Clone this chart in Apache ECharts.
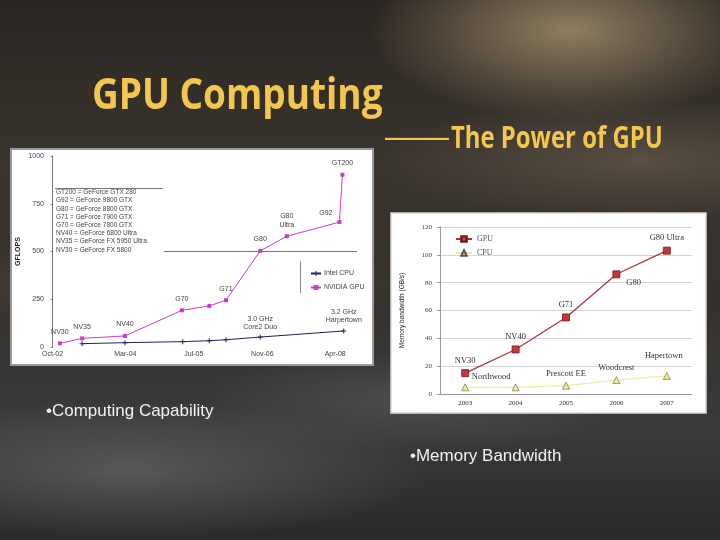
<!DOCTYPE html>
<html>
<head>
<meta charset="utf-8">
<script src="https://cdn.jsdelivr.net/npm/echarts@6/dist/echarts.min.js"></script>
<style>
html,body{margin:0;padding:0;}
body{width:720px;height:540px;overflow:hidden;
background:
 radial-gradient(ellipse 200px 90px at 570px 30px, rgba(160,140,105,0.85), rgba(160,140,105,0) 100%),
 radial-gradient(ellipse 260px 60px at 640px 160px, rgba(120,105,85,0.5), rgba(0,0,0,0) 100%),
 radial-gradient(ellipse 230px 50px at 170px 285px, rgba(130,115,100,0.45), rgba(0,0,0,0) 100%),
 radial-gradient(ellipse 300px 70px at 130px 470px, rgba(120,122,126,0.5), rgba(0,0,0,0) 100%),
 radial-gradient(ellipse 220px 50px at 420px 400px, rgba(110,110,110,0.4), rgba(0,0,0,0) 100%),
 linear-gradient(180deg,#2b2622 0%,#3a342e 30%,#35312d 55%,#3a3a3a 80%,#2a2a2a 100%);}
#c{width:720px;height:540px;}
</style>
</head>
<body>
<div id="c"></div>
<script>
// ---- Left chart: computing capability (GFLOPS) ----
const leftTickMonths = [0, 17, 33, 49, 66];
const leftTickLabels = ['Oct-02', 'Mar-04', 'Jul-05', 'Nov-06', 'Apr-08'];
const gflopsTicks = [0, 250, 500, 750, 1000];
const nvMonths = [1.7, 6.9, 16.9, 30.2, 36.6, 40.5, 48.5, 54.7, 67, 67.7];
const nvGflops = [19, 45, 58, 192, 215, 245, 503, 580, 654, 902];
const nvNames = ['NV30', 'NV35', 'NV40', 'G70', '', 'G71', 'G80', 'G80\nUltra', 'G92', 'GT200'];
const intelMonths = [6.9, 16.9, 30.4, 36.6, 40.5, 48.5, 68];
const intelGflops = [17.5, 22.7, 28, 33, 38, 52, 84];
const intelNames = ['', '', '', '', '', '3.0 GHz\nCore2 Duo', '3.2 GHz\nHarpertown'];
const gpuKey = ['GT200 = GeForce GTX 280', 'G92 = GeForce 9800 GTX', 'G80 = GeForce 8800 GTX',
  'G71 = GeForce 7900 GTX', 'G70 = GeForce 7800 GTX', 'NV40 = GeForce 6800 Ultra',
  'NV35 = GeForce FX 5950 Ultra', 'NV30 = GeForce FX 5800'];

// ---- Right chart: memory bandwidth (GB/s) ----
const years = ['2003', '2004', '2005', '2006', '2007'];
const gpuBW = [15, 32, 55, 86, 103];
const cpuBW = [4.8, 4.8, 6, 10, 13];
const gpuBWNames = ['NV30', 'NV40', 'G71', 'G80', 'G80 Ultra'];
const cpuBWNames = ['Northwood', '', 'Prescott EE', 'Woodcrest', 'Hapertown'];

const chart = echarts.init(document.getElementById('c'), null, {renderer: 'canvas'});

const gold = '#f3c64e';
const smallFont = 'Liberation Sans';
const serif = 'Liberation Serif';

const nvData = nvMonths.map((m, i) => {
  const d = {value: [m, nvGflops[i]], name: nvNames[i]};
  if (nvNames[i] === 'G92') d.label = {position: 'left', offset: [0, -9]};
  return d;
});
const intelData = intelMonths.map((m, i) => ({value: [m, intelGflops[i]], name: intelNames[i]}));

const gpuBWData = gpuBW.map((v, i) => {
  const d = {value: v, name: gpuBWNames[i]};
  if (i === 3) d.label = {position: 'right', offset: [2, 8]};
  return d;
});
const cpuBWData = cpuBW.map((v, i) => {
  const d = {value: v, name: cpuBWNames[i]};
  if (i === 0) d.label = {position: 'top', offset: [26, 2]};
  if (i === 4) d.label = {position: 'top', offset: [-3, -8]};
  return d;
});

const shadow = {shadowColor: 'rgba(0,0,0,0.75)', shadowBlur: 3, shadowOffsetY: 2};
const graphics = [
  {type: 'rect', z: -10, shape: {x: 11, y: 149, width: 362, height: 216},
    style: {fill: '#ffffff', stroke: '#9a9a9a', lineWidth: 2}},
  {type: 'rect', z: -10, shape: {x: 391, y: 213, width: 315, height: 200},
    style: {fill: '#ffffff', stroke: '#d8d8d8', lineWidth: 1.5}},
  {type: 'text', left: 92, top: 75, z: 10, scaleX: 0.86,
    style: Object.assign({text: 'GPU Computing', font: 'bold 43px "Open Sans"', fill: gold}, shadow)},
  {type: 'text', left: 385, top: 122, z: 10,
    style: Object.assign({text: '——', font: '32px "Liberation Sans"', fill: gold}, shadow)},
  {type: 'text', left: 451, top: 124, z: 10, scaleX: 0.77,
    style: Object.assign({text: 'The Power of GPU', font: 'bold 31px "Open Sans"', fill: gold}, shadow)},
  {type: 'text', left: 46, top: 403, z: 10,
    style: {text: '•Computing Capability', font: '17px "Liberation Sans"', fill: '#f2f2f2'}},
  {type: 'text', left: 410, top: 448, z: 10,
    style: {text: '•Memory Bandwidth', font: '17px "Liberation Sans"', fill: '#f2f2f2'}},
  {type: 'line', z: 5, shape: {x1: 55, y1: 188.5, x2: 163, y2: 188.5},
    style: {stroke: '#777', lineWidth: 1}},
  {type: 'line', z: 5, shape: {x1: 300.5, y1: 261, x2: 300.5, y2: 293},
    style: {stroke: '#888', lineWidth: 1}}
];
gpuKey.forEach((t, i) => {
  graphics.push({type: 'text', left: 56, top: 189 + i * 8.2, z: 5,
    style: {text: t, font: '6.5px "Liberation Sans"', fill: '#444'}});
});

const option = {
  animation: false,
  backgroundColor: 'transparent',
  graphic: graphics,
  legend: [
    {data: ['Intel CPU', 'NVIDIA GPU'], orient: 'vertical', left: 305, top: 265,
      itemWidth: 10, itemHeight: 6, itemGap: 7,
      textStyle: {fontSize: 7, fontFamily: smallFont, color: '#444', padding: [0, 0, 0, -2]}},
    {data: ['GPU', 'CPU'], orient: 'vertical', left: 450, top: 230,
      itemWidth: 16, itemHeight: 7, itemGap: 6,
      textStyle: {fontSize: 8, fontFamily: serif, color: '#555'}}
  ],
  grid: [
    {left: 50, top: 156, width: 307, height: 191},
    {left: 440, top: 227, width: 252, height: 167}
  ],
  xAxis: [
    {type: 'value', gridIndex: 0, min: -0.6, max: 71.1,
      axisLine: {show: false}, splitLine: {show: false},
      axisTick: {show: false},
      axisLabel: {customValues: leftTickMonths, fontSize: 7, fontFamily: smallFont, color: '#444', margin: 4,
        formatter: v => leftTickLabels[leftTickMonths.indexOf(v)] || ''}},
    {type: 'category', gridIndex: 1, data: years,
      axisLine: {lineStyle: {color: '#999'}}, axisTick: {lineStyle: {color: '#999'}, length: 3},
      axisLabel: {fontSize: 7, fontFamily: serif, color: '#333', margin: 6}}
  ],
  yAxis: [
    {type: 'value', gridIndex: 0, min: 0, max: 1000, interval: 250,
      name: 'GFLOPS', nameLocation: 'middle', nameGap: 28, nameRotate: 90,
      nameTextStyle: {fontSize: 7, fontWeight: 'bold', fontFamily: smallFont, color: '#222'},
      axisLine: {show: true, lineStyle: {color: '#777'}},
      axisTick: {show: true, length: 2, lineStyle: {color: '#777'}},
      splitLine: {show: false},
      axisLabel: {fontSize: 7, fontFamily: smallFont, color: '#444', margin: 6,
        formatter: v => gflopsTicks.indexOf(v) >= 0 ? String(v) : ''}},
    {type: 'value', gridIndex: 1, min: 0, max: 120, interval: 20,
      name: 'Memory bandwidth (GB/s)', nameLocation: 'middle', nameGap: 34, nameRotate: 90,
      nameTextStyle: {fontSize: 6.5, fontFamily: smallFont, color: '#222'},
      axisLine: {show: true, lineStyle: {color: '#999'}},
      axisTick: {show: true, length: 3, lineStyle: {color: '#999'}},
      splitLine: {lineStyle: {color: '#d4d4d4'}},
      axisLabel: {fontSize: 7, fontFamily: serif, color: '#444', margin: 8}}
  ],
  series: [
    {name: 'Intel CPU', type: 'line', xAxisIndex: 0, yAxisIndex: 0, data: intelData,
      color: '#22225a', lineStyle: {width: 1, color: '#22225a'},
      symbol: 'path://M4,0H6V4H10V6H6V10H4V6H0V4H4Z', symbolSize: 5,
      label: {show: true, formatter: p => p.name, position: 'top', distance: 4,
        fontSize: 7, fontFamily: smallFont, color: '#444', lineHeight: 8}},
    {name: 'NVIDIA GPU', type: 'line', xAxisIndex: 0, yAxisIndex: 0, data: nvData,
      color: '#cc3ccc', lineStyle: {width: 1, color: '#cc3ccc'},
      symbol: 'rect', symbolSize: 4,
      label: {show: true, formatter: p => p.name, position: 'top', distance: 5,
        fontSize: 7, fontFamily: smallFont, color: '#444', lineHeight: 9},
      markLine: {silent: true, symbol: 'none', label: {show: false},
        lineStyle: {color: '#777', type: 'solid', width: 1},
        data: [[{coord: [26, 500]}, {coord: [71.1, 500]}]]}},
    {name: 'GPU', type: 'line', xAxisIndex: 1, yAxisIndex: 1, data: gpuBWData,
      color: '#c23a3e', lineStyle: {width: 1.2, color: '#b03038'},
      symbol: 'rect', symbolSize: 7,
      itemStyle: {color: '#c7363c', borderColor: '#6a1a1e', borderWidth: 0.8},
      label: {show: true, formatter: p => p.name, position: 'top', distance: 4,
        fontSize: 8.5, fontFamily: serif, color: '#333'}},
    {name: 'CPU', type: 'line', xAxisIndex: 1, yAxisIndex: 1, data: cpuBWData,
      color: '#f2ee9a', lineStyle: {width: 1.2, color: '#efeaa0'},
      symbol: 'triangle', symbolSize: 7,
      itemStyle: {color: '#f4ec88', borderColor: '#555', borderWidth: 0.6},
      label: {show: true, formatter: p => p.name, position: 'top', distance: 4,
        fontSize: 8.5, fontFamily: serif, color: '#333'}}
  ]
};
chart.setOption(option);
</script>
</body>
</html>
